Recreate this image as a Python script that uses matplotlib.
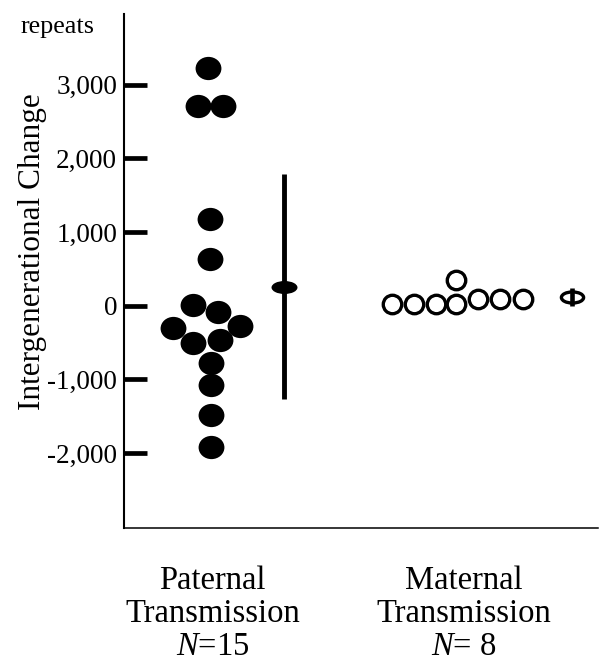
import matplotlib
matplotlib.use("Agg")
import matplotlib.pyplot as plt
import numpy as np
from matplotlib.path import Path
from matplotlib.transforms import Affine2D

plt.rcParams['font.family'] = ['Liberation Serif', 'DejaVu Serif']
plt.rcParams['mathtext.fontset'] = 'custom'
plt.rcParams['mathtext.rm'] = 'Liberation Serif'
plt.rcParams['mathtext.it'] = 'Liberation Serif:italic'

# data (repeats)
paternal_change = [3230, 2714, 2714, 1177, 635, 11, -80, -305, -274,
                   -509, -464, -772, -1074, -1481, -1911]
maternal_change = [20, 20, 20, 20, 350, 88, 88, 88]
group_means = [260, 123]
group_sd = [1525, 125]
group_labels = ["Paternal\nTransmission\n$N$=15", "Maternal\nTransmission\n$N$= 8"]
yticks = [-2000, -1000, 0, 1000, 2000, 3000]
ytick_labels = ["-2,000", "-1,000", "0", "1,000", "2,000", "3,000"]

# layout: horizontal offsets of the dots inside each column
paternal_dx = [-0.007, -0.050, 0.054, 0, 0, -0.068, 0.034, -0.152, 0.122,
               -0.070, 0.041, 0.004, 0.004, 0.004, 0.004]
maternal_dx = [-0.261, -0.170, -0.081, 0.0, 0.0, 0.088, 0.179, 0.274]
group_x = [1.0, 2.0]
errbar_x = [1.301, 2.470]
label_x = [1.01, 2.03]

# elliptical marker shapes
circ = Path.unit_circle()
dot_shape = circ.transformed(Affine2D().scale(1.0, 0.9))
mean_shape = circ.transformed(Affine2D().scale(1.0, 0.5))

fig = plt.figure(figsize=(6.0, 6.63), dpi=100)
W, H = 600, 663
ax = fig.add_axes([124 / W, 1 - 528.3 / H, (598 - 124) / W, (528.3 - 14) / H])

ax.plot(group_x[0] + np.array(paternal_dx), paternal_change, linestyle='none',
        marker=dot_shape, markersize=18.6, color='black', markeredgewidth=0)
ax.plot(group_x[1] + np.array(maternal_dx), maternal_change, linestyle='none',
        marker='o', markersize=13.3, markerfacecolor='white',
        markeredgecolor='black', markeredgewidth=2.4)

# paternal: solid ellipse on the bar
ax.plot([errbar_x[0]] * 2, [group_means[0] - group_sd[0], group_means[0] + group_sd[0]],
        color='black', linewidth=3.5, solid_capstyle='butt')
ax.plot([errbar_x[0]], [group_means[0]], marker=mean_shape, markersize=18.7,
        color='black', markeredgewidth=0)
# maternal: open ellipse with the bar through it
ax.plot([errbar_x[1]], [group_means[1]], marker=mean_shape, markersize=16.0,
        markerfacecolor='white', markeredgecolor='black', markeredgewidth=2.4)
ax.plot([errbar_x[1]] * 2, [group_means[1] - group_sd[1], group_means[1] + group_sd[1]],
        color='black', linewidth=3.3, solid_capstyle='butt')

ax.set_xlim(0.6504, 2.577)
ax.set_ylim(-3020, 3960)
ax.set_yticks(yticks)
ax.set_yticklabels(ytick_labels, fontsize=19.5)
ax.tick_params(axis='y', direction='in', length=16.5, width=3.4, pad=5)
ax.set_xticks([])
for s in ['top', 'right']:
    ax.spines[s].set_visible(False)
ax.spines['left'].set_linewidth(1.5)
ax.spines['bottom'].set_linewidth(1.1)

for lx, lab in zip(label_x, group_labels):
    ax.text(lx, -3520, lab, ha='center', va='top', fontsize=23.5,
            linespacing=1.11)

fig.text(33 / W, 1 - 252 / H, "Intergenerational Change", rotation=90,
         ha='center', va='center', fontsize=22.5)
fig.text(21 / W, 1 - 33 / H, "repeats", ha='left', va='baseline', fontsize=18.8)

fig.savefig("out.png", dpi=100)
